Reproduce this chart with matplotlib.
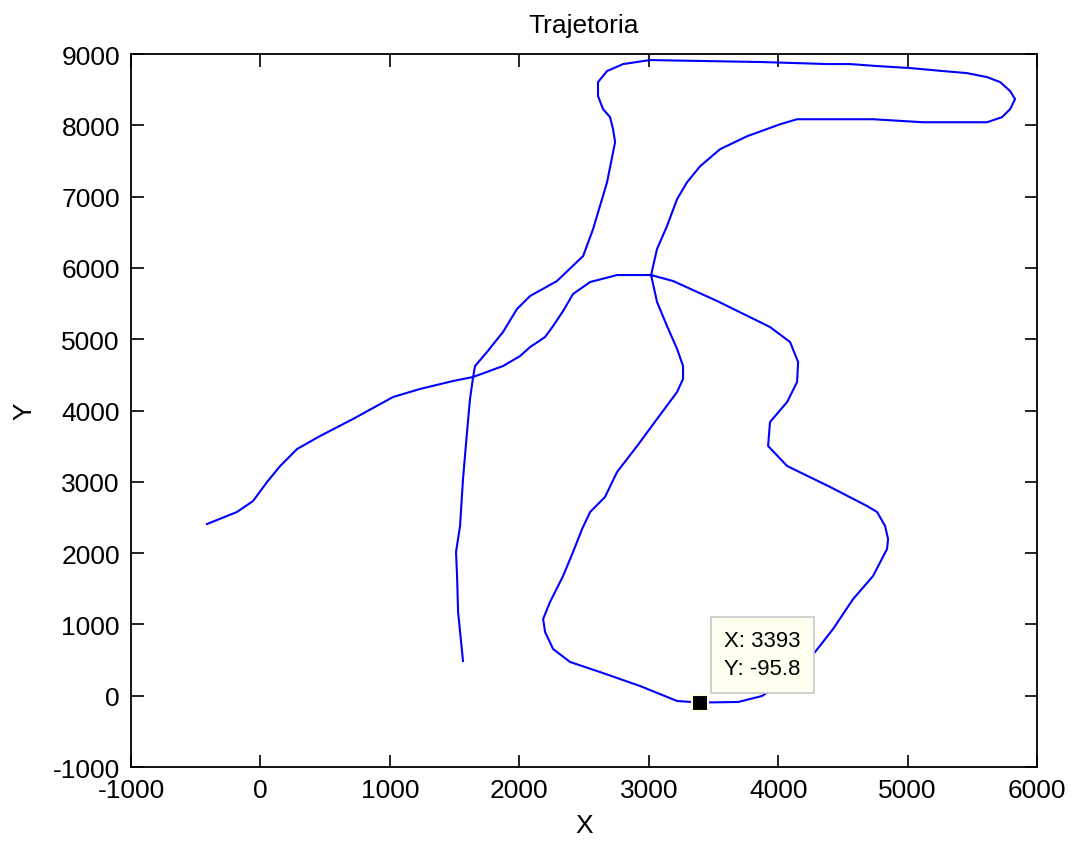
import matplotlib
matplotlib.use("Agg")
import matplotlib.pyplot as plt

plt.rcParams['font.family'] = ['Liberation Sans', 'DejaVu Sans']

# Trajectory (X, Y), in drawing order
traj_x = [-413, -181, -57, 51, 152, 283, 460, 715, 1024, 1233, 1488, 1643,
          1874, 2006, 2083, 2199, 2261, 2338, 2415, 2547, 2755, 3018, 3188,
          3528, 3937, 4092, 4154, 4146, 4069, 3937, 3922, 4069, 4401, 4686,
          4764, 4826, 4849, 4841, 4733, 4579, 4424, 4285, 4092, 3875, 3690,
          3393, 3219, 2933, 2624, 2392, 2261, 2199, 2184, 2237, 2338, 2415,
          2485, 2547, 2662, 2755, 2910, 3064, 3219, 3265, 3265, 3219, 3141,
          3064, 3018, 3064, 3141, 3219, 3296, 3397, 3551, 3760, 4015, 4146,
          4733, 5120, 5614, 5730, 5792, 5830, 5792, 5715, 5614, 5459, 5274,
          5019, 4764, 4555, 4378, 3883, 3010, 2802, 2678, 2608, 2608, 2647,
          2701, 2724, 2740, 2678, 2570, 2493, 2291, 2083, 1982, 1874, 1750,
          1658, 1643, 1619, 1596, 1565, 1542, 1511, 1519, 1527, 1558, 1565]
traj_y = [2408, 2577, 2731, 2997, 3221, 3460, 3642, 3881, 4189, 4302, 4414, 4470,
          4624, 4764, 4890, 5031, 5185, 5395, 5634, 5802, 5900, 5900, 5816,
          5536, 5171, 4960, 4680, 4400, 4119, 3839, 3502, 3222, 2928, 2661,
          2577, 2380, 2198, 2058, 1679, 1356, 936, 613, 262, -4, -88,
          -95.8, -74, 136, 332, 473, 655, 894, 1076, 1314, 1679, 2015,
          2338, 2576, 2787, 3137, 3502, 3881, 4260, 4442, 4624, 4863, 5185,
          5522, 5900, 6265, 6587, 6966, 7202, 7426, 7665, 7847, 8015, 8085,
          8085, 8043, 8043, 8115, 8227, 8368, 8480, 8606, 8676, 8732, 8761,
          8803, 8831, 8859, 8859, 8887, 8915, 8859, 8761, 8606, 8410, 8227,
          8115, 7947, 7765, 7202, 6545, 6167, 5816, 5606, 5424, 5101, 4820,
          4624, 4470, 4161, 3698, 3039, 2380, 2015, 1679, 1174, 613, 487]

# Data tip
tip_x = 3393
tip_y = -95.8
tip_label = "X: 3393\nY: -95.8"

x_ticks = [-1000, 0, 1000, 2000, 3000, 4000, 5000, 6000]
y_ticks = [-1000, 0, 1000, 2000, 3000, 4000, 5000, 6000, 7000, 8000, 9000]

fig = plt.figure(figsize=(10.73, 8.45), dpi=100)
ax = fig.add_axes([0.1221, 0.0911, 0.8444, 0.8438])

ax.plot(traj_x, traj_y, color='#0000FF', linewidth=1.5, zorder=2)
ax.plot([tip_x], [tip_y], marker='s', markersize=11, markerfacecolor='black',
        markeredgecolor='#FFFFE0', markeredgewidth=1.5, linestyle='none', zorder=5)

ax.text(3585, 230, tip_label, ha='left', va='bottom', fontsize=16,
        linespacing=1.45, color='black', zorder=4,
        bbox=dict(boxstyle='square,pad=0.6', facecolor='#FFFFF0',
                  edgecolor='#C8C8C8', linewidth=1.2))

ax.set_xlim(-1000, 6000)
ax.set_ylim(-1000, 9000)
ax.set_xticks(x_ticks)
ax.set_yticks(y_ticks)
ax.set_xticklabels([str(v) for v in x_ticks])
ax.set_yticklabels([str(v) for v in y_ticks])
ax.tick_params(direction='in', length=9, width=1.2, labelsize=19,
               top=True, right=True, pad=8)
for s in ax.spines.values():
    s.set_linewidth(1.3)

ax.set_title('Trajetoria', fontsize=19, pad=16)
ax.set_xlabel('X', fontsize=19, labelpad=8)
ax.set_ylabel('Y', fontsize=19, labelpad=12)

fig.savefig('out.png', dpi=100)
